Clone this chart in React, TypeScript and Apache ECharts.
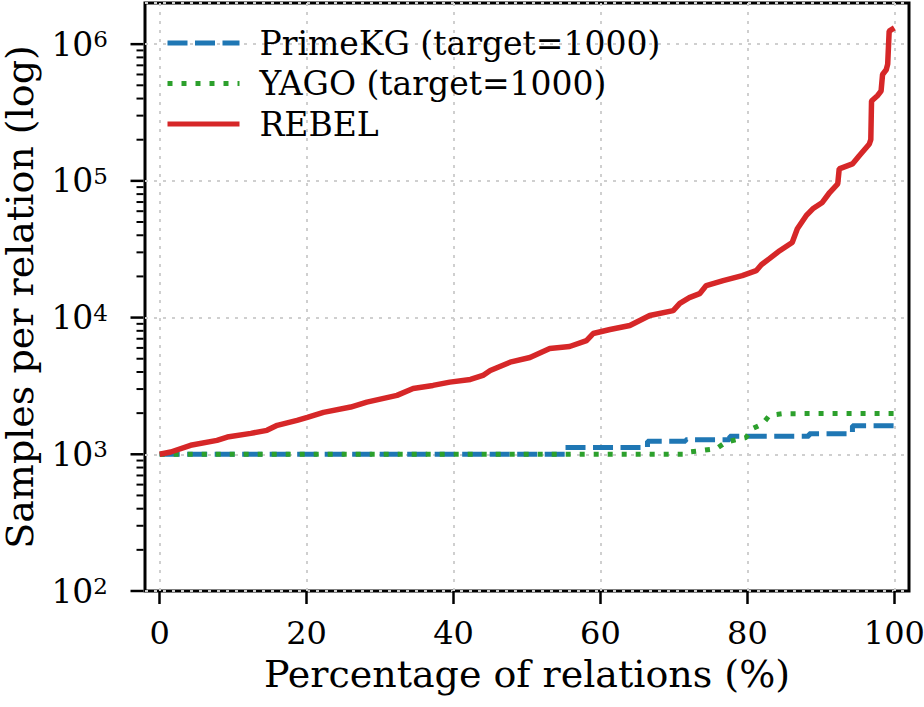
import { useEffect, useRef } from 'react';
import * as echarts from 'echarts';

const FONT = 'DejaVu Serif';

// Axis ranges and tick positions
const X_MIN = -2;
const X_MAX = 102;
const X_TICKS = [0, 20, 40, 60, 80, 100];
const Y_MIN = 100;
const Y_MAX = 2e6;
const Y_DECADES = [2, 3, 4, 5, 6];
const Y_MINOR_MULTIPLIERS = [2, 3, 4, 5, 6, 7, 8, 9];

// PrimeKG (target=1000): percentage of relations vs samples per relation
const primePct = [0, 55.2, 55.2, 66.4, 66.4, 71.6, 71.6, 77.6, 77.6, 88.4, 88.4, 94.3, 94.3, 100];
const primeSamples = [1000, 1000, 1119, 1119, 1244, 1244, 1280, 1280, 1353, 1353, 1416, 1416, 1619, 1619];

// YAGO (target=1000)
const yagoPct = [0, 71.5, 72.1, 74.0, 75.8, 77.1, 79.8, 80.7, 82.1, 83.0, 84.8, 100];
const yagoSamples = [1000, 1000, 1039, 1070, 1100, 1230, 1324, 1540, 1675, 1927, 1982, 1990];

// REBEL
const rebelPct = [
  0, 1.5, 4.2, 7.8, 9.2, 12.4, 14.6, 16, 18.7, 20.1, 22.3, 26, 28.2, 32.3, 34.5, 37.2,
  39.5, 42.3, 44, 45, 47.7, 50.4, 53.1, 55.8, 58.1, 59, 61.3, 64, 66.7, 69.9, 70.8, 72.1,
  73.5, 74.4, 76.7, 79.3, 81.2, 81.9, 83, 84.4, 86.1, 86.8, 88, 88.9, 90.2, 91.2, 92.3,
  92.5, 94.3, 95.2, 96.6, 96.8, 96.9, 97.7, 98.2, 98.4, 98.9, 99.1, 99.3, 100,
];
const rebelSamples = [
  1000, 1039, 1163, 1265, 1337, 1423, 1497, 1629, 1771, 1862, 2027, 2215, 2409, 2697, 3032, 3190,
  3371, 3527, 3773, 4104, 4718, 5105, 5939, 6141, 6793, 7642, 8175, 8743, 10350, 11250, 12710, 13990,
  14960, 17130, 18630, 20260, 22030, 24360, 26970, 30850, 35450, 44670, 55590, 62490, 69480, 82200, 95100,
  122400, 133100, 152200, 186300, 200000, 383700, 420000, 453600, 600000, 650000, 714600, 1245000, 1315000,
];

const zip = (xs: number[], ys: number[]) => xs.map((x, i) => [x, ys[i]]);

export default function App() {
  const ref = useRef<HTMLDivElement>(null);

  useEffect(() => {
    if (!ref.current) return;
    const chart = echarts.init(ref.current, null, { renderer: 'svg' });

    // y-axis ticks in matplotlib style: long ones at decades, short ones at 2..9 x 10^n
    const yTicks: number[][] = [];
    Y_DECADES.forEach((e) => {
      yTicks.push([X_MIN, Math.pow(10, e), 1]);
      Y_MINOR_MULTIPLIERS.forEach((k) => {
        const v = k * Math.pow(10, e);
        if (v < Y_MAX) yTicks.push([X_MIN, v, 0]);
      });
    });

    const gridLine = { color: '#cfcfcf', width: 2, type: [3, 6] as number[] };

    chart.setOption({
      animation: false,
      backgroundColor: '#ffffff',
      textStyle: { fontFamily: FONT },
      grid: {
        left: 145,
        right: 15,
        top: 3,
        bottom: 116,
        containLabel: false,
        outerBoundsMode: 'none',
        show: true,
        borderColor: '#000000',
        borderWidth: 3,
        backgroundColor: 'transparent',
      },
      legend: {
        data: ['PrimeKG (target=1000)', 'YAGO (target=1000)', 'REBEL'],
        orient: 'vertical',
        left: 165,
        top: 26,
        padding: 0,
        itemWidth: 72,
        itemHeight: 20,
        itemGap: 6.5,
        textStyle: { fontSize: 33, fontFamily: FONT, color: '#000', lineHeight: 34, padding: [0, 0, 0, 15] },
        lineStyle: { width: 5 },
        itemStyle: { opacity: 0, borderWidth: 0 },
      },
      xAxis: {
        type: 'value',
        min: X_MIN,
        max: X_MAX,
        axisLine: { show: false },
        axisTick: {
          show: true,
          customValues: X_TICKS,
          length: 13,
          lineStyle: { color: '#000', width: 2.5 },
        },
        axisLabel: { customValues: X_TICKS, margin: 26, fontSize: 32, fontFamily: FONT, color: '#000' },
        splitLine: { show: true, lineStyle: gridLine },
        name: 'Percentage of relations (%)',
        nameLocation: 'middle',
        nameGap: 64,
        nameTextStyle: { fontSize: 38, fontFamily: FONT, color: '#000' },
      },
      yAxis: {
        type: 'log',
        logBase: 10,
        min: Y_MIN,
        max: Y_MAX,
        axisLine: { show: false },
        axisTick: { show: false },
        axisLabel: {
          margin: 37,
          formatter: (v: number) => {
            const e = Math.log10(v);
            const r = Math.round(e);
            return Math.abs(e - r) < 1e-6 ? `{b|10}{s|${r}}` : '';
          },
          rich: {
            b: { fontSize: 33, fontFamily: FONT, color: '#000', lineHeight: 33 },
            s: { fontSize: 23, fontFamily: FONT, color: '#000', lineHeight: 23, verticalAlign: 'top' },
          },
        },
        splitLine: { show: true, lineStyle: gridLine },
        name: 'Samples per relation (log)',
        nameLocation: 'middle',
        nameGap: 107,
        nameTextStyle: { fontSize: 38, lineHeight: 36, fontFamily: FONT, color: '#000' },
      },
      series: [
        {
          type: 'line',
          name: 'PrimeKG (target=1000)',
          data: zip(primePct, primeSamples),
          symbol: 'none',
          lineStyle: { color: '#1f77b4', width: 5, type: [20, 7.5], cap: 'butt' },
          itemStyle: { color: '#1f77b4' },
          z: 3,
        },
        {
          type: 'line',
          name: 'YAGO (target=1000)',
          data: zip(yagoPct, yagoSamples),
          symbol: 'none',
          lineStyle: { color: '#2ca02c', width: 5, type: [5, 9], cap: 'butt' },
          itemStyle: { color: '#2ca02c' },
          z: 4,
        },
        {
          type: 'line',
          name: 'REBEL',
          data: zip(rebelPct, rebelSamples),
          symbol: 'none',
          lineStyle: { color: '#d62728', width: 5.5 },
          itemStyle: { color: '#d62728' },
          z: 5,
        },
        {
          type: 'custom',
          name: 'y-ticks',
          coordinateSystem: 'cartesian2d',
          clip: false,
          silent: true,
          encode: { x: 0, y: 1 },
          data: yTicks,
          renderItem: (_params: any, api: any) => {
            const p = api.coord([api.value(0), api.value(1)]);
            const major = api.value(2) === 1;
            const len = major ? 13 : 7;
            return {
              type: 'line',
              shape: { x1: p[0] - 1.5 - len, y1: p[1], x2: p[0] - 1.5, y2: p[1] },
              style: { stroke: '#000', lineWidth: major ? 2.5 : 2 },
            };
          },
          z: 6,
        },
      ],
    });

    return () => chart.dispose();
  }, []);

  return <div ref={ref} style={{ position: 'fixed', left: 0, top: 0, width: 924, height: 707 }} />;
}
